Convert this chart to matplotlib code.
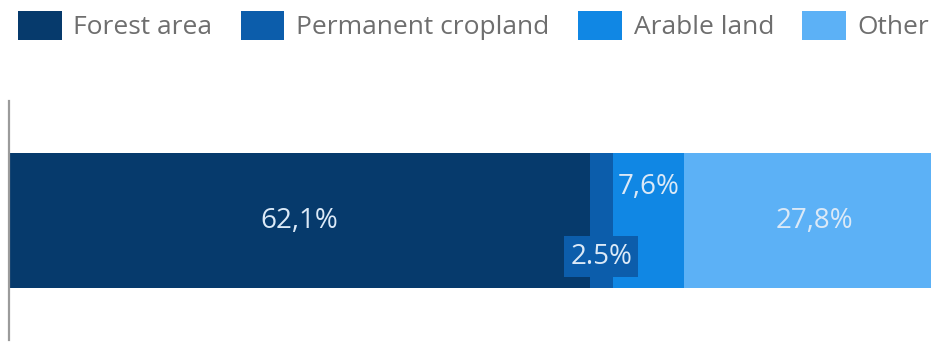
"""
Land use share, single stacked horizontal bar
"""

import matplotlib.pyplot as plt
from matplotlib.patches import Patch

# ------------------------------------------------------------------
# Data
# ------------------------------------------------------------------
CATEGORIES = ["Forest area", "Permanent cropland", "Arable land", "Other"]
SHARES = [62.1, 2.5, 7.6, 27.8]
LABELS = ["62,1%", "2.5%", "7,6%", "27,8%"]

COLORS = ["#063a6c", "#0c5dab", "#1087e4", "#5cb1f6"]
LABEL_COLOR = "#dbe9f7"
LEGEND_TEXT = "#6e6e6e"

plt.rcParams["font.family"] = ["Open Sans", "DejaVu Sans"]

fig = plt.figure(figsize=(9.31, 3.42), dpi=100)
ax = fig.add_axes([9 / 931, 2 / 342, 935 / 931, 239 / 342])

left = 0
for cat, val, lab, col in zip(CATEGORIES, SHARES, LABELS, COLORS):
    ax.barh(0, val, left=left, height=0.565, color=col, label=cat, zorder=2)
    cx = left + val / 2
    if cat == "Permanent cropland":
        ax.annotate(lab, (cx, 0), xytext=(0, -26), textcoords="offset points",
                    ha="center", va="center", fontsize=20, color=LABEL_COLOR,
                    bbox=dict(boxstyle="square,pad=0.22", fc=col, ec="none"),
                    zorder=3)
    elif cat == "Arable land":
        ax.annotate(lab, (cx, 0), xytext=(0, 24), textcoords="offset points",
                    ha="center", va="center", fontsize=20, color=LABEL_COLOR,
                    zorder=3)
    else:
        ax.text(cx, 0, lab, ha="center", va="center", fontsize=20,
                color=LABEL_COLOR, zorder=3)
    left += val

ax.set_xlim(0, 100)
ax.set_ylim(-0.5, 0.5)
for side in ["top", "right", "bottom"]:
    ax.spines[side].set_visible(False)
ax.spines["left"].set_color("#9b9b9b")
ax.spines["left"].set_linewidth(1.6)
ax.spines["left"].set_zorder(4)
ax.set_xticks([])
ax.set_yticks([])

# legend across the top
handles = [Patch(facecolor=c, edgecolor="none") for c in COLORS]
leg = fig.legend(handles, CATEGORIES, loc="upper left",
                 bbox_to_anchor=(18 / 931, 1 - 11 / 342), ncol=4,
                 frameon=False, fontsize=19, borderpad=0, borderaxespad=0,
                 handlelength=1.65, handleheight=1.3, handletextpad=0.45,
                 columnspacing=1.08)
for t in leg.get_texts():
    t.set_color(LEGEND_TEXT)

fig.savefig("out.png", dpi=100)
